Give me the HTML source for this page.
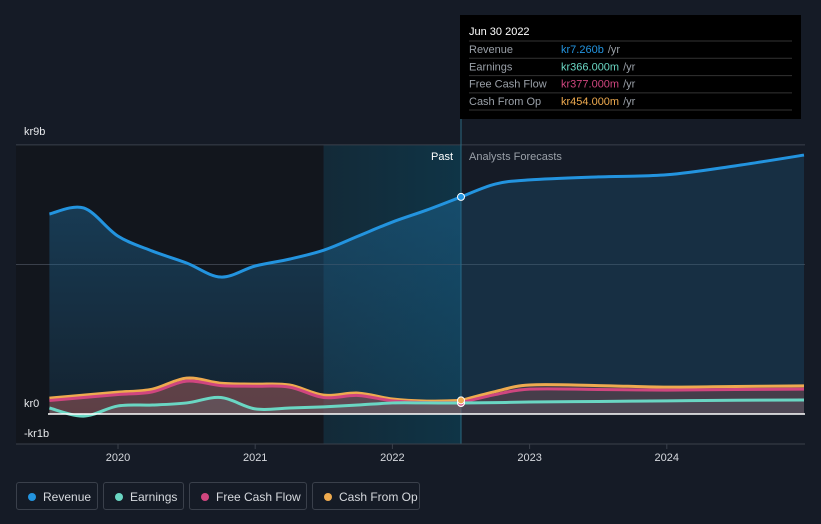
<!DOCTYPE html>
<html><head><meta charset="utf-8"><style>
body{margin:0;background:#151b26;font-family:"Liberation Sans",sans-serif;}
svg{display:block}
.leg{position:absolute;top:482px;height:28px;border:1px solid #3a404b;border-radius:3px;color:#d6d9de;font-size:12px;line-height:28px;padding:0 0 0 26px;box-sizing:border-box;white-space:nowrap}
.leg i{position:absolute;left:11px;top:10px;width:8px;height:8px;border-radius:50%}
</style></head><body>
<div style="position:relative;width:821px;height:524px;overflow:hidden">
<svg id="c" width="821" height="524"></svg>
<div class="leg" style="left:16px;width:82px"><i style="background:#2394df"></i>Revenue</div>
<div class="leg" style="left:103px;width:81px"><i style="background:#6ad6c3"></i>Earnings</div>
<div class="leg" style="left:189px;width:118px"><i style="background:#d0467f"></i>Free Cash Flow</div>
<div class="leg" style="left:312px;width:108px"><i style="background:#eeaa4f"></i>Cash From Op</div>
</div>
<script>
const years=[2019.5,2019.75,2020,2020.25,2020.5,2020.75,2021,2021.25,2021.5,2021.75,2022,2022.25,2022.5];
const revenue=[6.69,6.89,5.95,5.45,5.05,4.58,4.95,5.18,5.48,5.95,6.42,6.82,7.26];
const earnings=[0.2,-0.07,0.27,0.3,0.37,0.55,0.17,0.2,0.24,0.3,0.37,0.37,0.366];
const cashOp=[0.53,0.63,0.73,0.83,1.2,1.03,1.0,0.97,0.63,0.7,0.5,0.43,0.454];
const fcf=[0.45,0.55,0.65,0.74,1.1,0.95,0.93,0.9,0.55,0.62,0.44,0.38,0.377];
const fYears=[2022.5,2022.75,2023,2023.5,2024,2024.5,2025];
const fRevenue=[7.26,7.69,7.83,7.93,8.0,8.3,8.66];
const fEarnings=[0.366,0.38,0.4,0.42,0.44,0.46,0.47];
const fCashOp=[0.454,0.75,0.97,0.95,0.9,0.92,0.94];
const fFcf=[0.377,0.65,0.83,0.82,0.8,0.82,0.83];
const xTicks=[2020,2021,2022,2023,2024];
const yTicks=[{v:9,l:"kr9b"},{v:0,l:"kr0"},{v:-1,l:"-kr1b"}];
const X=t=>118+(t-2020)*137.2, Y=v=>414-v*29.9;
const s=document.getElementById('c');const NS="http://www.w3.org/2000/svg";
function el(tag,a,txt){const e=document.createElementNS(NS,tag);for(const k in a)e.setAttribute(k,a[k]);if(txt!=null)e.textContent=txt;s.appendChild(e);return e;}
const defs=el('defs',{});
defs.innerHTML='<linearGradient id="hl" x1="0" x2="1"><stop offset="0" stop-color="#132a38"/><stop offset="1" stop-color="#0f3446"/></linearGradient><linearGradient id="rf" x1="0" y1="0" x2="0" y2="1"><stop offset="0" stop-color="#1f6a9a" stop-opacity="0.45"/><stop offset="1" stop-color="#1f6a9a" stop-opacity="0.15"/></linearGradient>';
let e=el('rect',{x:16,y:145,width:307,height:299,fill:'#12161d'});

e=el('rect',{x:X(2021.5),y:145,width:X(2022.5)-X(2021.5),height:299,fill:'url(#hl)'});

[9,5].forEach(v=>{const g=el('line',{x1:16,x2:805,y1:Y(v),y2:Y(v),stroke:'#3a404b','stroke-width':1});});
e=el('line',{x1:X(2022.5),x2:X(2022.5),y1:15,y2:444,stroke:'#2a6a80','stroke-width':1});

function pts(xs,ys){return xs.map((t,i)=>[X(t),Y(ys[i])]);}
function path(p){let d='M'+p[0][0]+','+p[0][1];for(let i=0;i<p.length-1;i++){const p0=p[Math.max(i-1,0)],p1=p[i],p2=p[i+1],p3=p[Math.min(i+2,p.length-1)];
 const c1=[p1[0]+(p2[0]-p0[0])/6,p1[1]+(p2[1]-p0[1])/6],c2=[p2[0]-(p3[0]-p1[0])/6,p2[1]-(p3[1]-p1[1])/6];
 d+=' C'+c1[0]+','+c1[1]+' '+c2[0]+','+c2[1]+' '+p2[0]+','+p2[1];}return d;}
function series(name,xs,ys,color,fill){const p=pts(xs,ys);const d=path(p);
 const a=el('path',{d:d+' L'+p[p.length-1][0]+','+Y(0)+' L'+p[0][0]+','+Y(0)+'Z',fill:fill});
 const l=el('path',{d:d,fill:'none',stroke:color,'stroke-width':3});}
series('revenue',years,revenue,'#2394df','url(#rf)');
series('revenue-forecast',fYears,fRevenue,'#2394df','rgba(31,106,154,0.25)');
series('cash-from-op',years,cashOp,'#eeaa4f','rgba(200,100,90,0.35)');
series('cash-from-op-forecast',fYears,fCashOp,'#eeaa4f','rgba(200,100,90,0.2)');
series('free-cash-flow',years,fcf,'#d0467f','rgba(120,80,90,0.3)');
series('free-cash-flow-forecast',fYears,fFcf,'#d0467f','rgba(120,80,90,0.2)');
series('earnings',years,earnings,'#6ad6c3','rgba(110,120,130,0.3)');
series('earnings-forecast',fYears,fEarnings,'#6ad6c3','rgba(110,120,130,0.2)');
e=el('line',{x1:48,x2:805,y1:Y(0),y2:Y(0),stroke:'#fff','stroke-width':1.5});

e=el('line',{x1:16,x2:805,y1:444,y2:444,stroke:'#3a404b'});

xTicks.forEach(t=>{const k=el('line',{x1:X(t),x2:X(t),y1:444,y2:449,stroke:'#3a404b'});
 const tx=el('text',{x:X(t),y:461,fill:'#d6d9de','font-size':11,'text-anchor':'middle'},t);});
yTicks.forEach(o=>{const tx=el('text',{x:24,y:Y(o.v)+(o.v==9?-10:-7),fill:'#e6e8eb','font-size':11},o.l);});
[[revenue,'#2394df'],[earnings,'#6ad6c3'],[fcf,'#d0467f'],[cashOp,'#eeaa4f']].forEach(([arr,c])=>{const d=el('circle',{cx:X(2022.5),cy:Y(arr[arr.length-1]),r:3.5,fill:c,stroke:'#fff','stroke-width':1});});
e=el('text',{x:453,y:160,fill:'#fff','font-size':11,'text-anchor':'end'},'Past');
e=el('text',{x:469,y:160,fill:'#9aa0a8','font-size':11},'Analysts Forecasts');
e=el('rect',{x:460,y:15,width:341,height:104,fill:'#000'});
e=el('text',{x:469,y:35,fill:'#fff','font-size':11},'Jun 30 2022');
const rows=[['Revenue','kr7.260b','#2394df'],['Earnings','kr366.000m','#6ad6c3'],['Free Cash Flow','kr377.000m','#d0467f'],['Cash From Op','kr454.000m','#eeaa4f']];
rows.forEach((r,i)=>{const y=41+i*17.3;
 const ln=el('line',{x1:469,x2:792,y1:y,y2:y,stroke:'#333'});
 const a=el('text',{x:469,y:y+12,fill:'#9aa0a8','font-size':11},r[0]);
 const b=el('text',{x:561,y:y+12,'font-size':11,fill:r[2]},r[1]);
 const w=b.getComputedTextLength?b.getComputedTextLength():60;
 const c=el('text',{x:561+w+4,y:y+12,fill:'#9aa0a8','font-size':11},'/yr');});
e=el('line',{x1:469,x2:792,y1:110,y2:110,stroke:'#333'});
</script>
</body></html>
